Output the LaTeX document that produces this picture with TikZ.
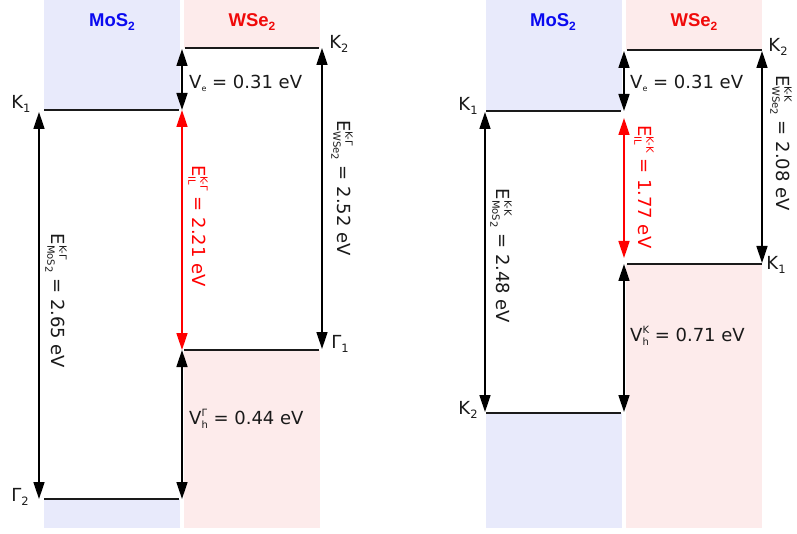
\documentclass[tikz,border=0pt]{standalone}
\usepackage{fontspec}
\setmainfont{DejaVu Sans}
\newfontfamily\hdfont{Liberation Sans}
\usetikzlibrary{arrows.meta}
\definecolor{mosfill}{HTML}{E8EAFB}
\definecolor{wsefill}{HTML}{FDEBEB}
\definecolor{hdblue}{HTML}{0A0AF0}
\definecolor{hdred}{HTML}{F00A0A}
\definecolor{txt}{HTML}{1A1A1A}
\newcommand{\lowx}[1]{{\fontsize{11.5}{11.5}\selectfont\raisebox{-4pt}{#1}}}
\newcommand{\tinylow}[1]{{\fontsize{8}{8}\selectfont\raisebox{-3pt}{#1}}}
\newcommand{\supsubx}[2]{{\fontsize{10}{10}\selectfont\setbox0=\hbox{\raisebox{8pt}{#1}}\setbox2=\hbox{\raisebox{-4pt}{#2}}\ifdim\wd0>\wd2 \rlap{\box2}\box0 \else\rlap{\box0}\box2\fi}}
\newcommand{\hdtext}[1]{{\hdfont\bfseries\fontsize{18.5}{18.5}\selectfont #1\raisebox{-4pt}{\fontsize{12}{12}\selectfont 2}}}
\tikzset{
  band/.style={line width=1.5pt, draw=txt},
  dbl/.style={line width=1.6pt, draw=black, {Triangle[length=17pt,width=11pt]}-{Triangle[length=17pt,width=11pt]}},
  dblred/.style={dbl, draw=red, {Triangle[length=17pt,width=11pt]}-{Triangle[length=17pt,width=11pt]}, red},
  lbl/.style={font=\fontsize{18}{18}\selectfont, text=txt, inner sep=0pt},
  rlbl/.style={lbl, rotate=-90},
  hd/.style={inner sep=0pt}
}
\begin{document}
\begin{tikzpicture}[x=1pt,y=-1pt]
\useasboundingbox (0,0) rectangle (797,534);
% ---------- left panel ----------
\fill[mosfill] (44,0) rectangle (180,110);
\fill[mosfill] (44,499) rectangle (180,528);
\fill[wsefill] (184,0) rectangle (320,48);
\fill[wsefill] (184,350) rectangle (320,528);
\node[hd, text=hdblue] (lmos) at (112,22) {\hdtext{MoS}};
\node[hd, text=hdred] (lwse) at (252,22) {\hdtext{WSe}};
\coordinate (lk1a) at (44,110);  \coordinate (lk1b) at (179,110);
\coordinate (lk2a) at (185,48);  \coordinate (lk2b) at (319,48);
\coordinate (lg1a) at (184,350); \coordinate (lg1b) at (319,350);
\coordinate (lg2a) at (44,499);  \coordinate (lg2b) at (179,499);
\draw[band] (lk1a) -- (lk1b);
\draw[band] (lk2a) -- (lk2b);
\draw[band] (lg1a) -- (lg1b);
\draw[band] (lg2a) -- (lg2b);
\coordinate (la1) at (39,112);  \coordinate (la2) at (39,499);
\coordinate (lv1) at (182,49);  \coordinate (lv2) at (182,110);
\coordinate (lv3) at (182,350); \coordinate (lv4) at (182,499);
\coordinate (lr1) at (322,48);  \coordinate (lr2) at (322,349);
\draw[dbl] (la1) -- (la2);
\draw[dbl] (lv1) -- (lv2);
\draw[dblred] (lv2) -- (lv3);
\draw[dbl] (lv3) -- (lv4);
\draw[dbl] (lr1) -- (lr2);
\node[lbl] (lK1) at (21,104) {K\lowx{1}};
\node[lbl] (lK2) at (339,44) {K\lowx{2}};
\node[lbl] (lG1) at (340,344) {Γ\lowx{1}};
\node[lbl] (lG2) at (20,497) {Γ\lowx{2}};
\node[lbl, anchor=west] (lVe) at (189,83) {V\tinylow{e} = 0.31 eV};
\node[lbl, anchor=west] (lVh) at (189,419) {V\supsubx{Γ}{h} = 0.44 eV};
\node[rlbl] (lEm) at (56,301) {E\supsubx{K-Γ}{MoS\raisebox{-2pt}{2}} = 2.65 eV};
\node[rlbl, text=red] (lEi) at (198,226) {E\supsubx{K-Γ}{IL} = 2.21 eV};
\node[rlbl] (lEw) at (342,188) {E\supsubx{K-Γ}{WSe\raisebox{-2pt}{2}} = 2.52 eV};
% ---------- right panel ----------
\fill[mosfill] (486,0) rectangle (622,111);
\fill[mosfill] (486,413) rectangle (622,528);
\fill[wsefill] (626,0) rectangle (762,50);
\fill[wsefill] (626,264) rectangle (762,528);
\node[hd, text=hdblue] (rmos) at (553,22) {\hdtext{MoS}};
\node[hd, text=hdred] (rwse) at (694,22) {\hdtext{WSe}};
\coordinate (rk1a) at (486,111); \coordinate (rk1b) at (621,111);
\coordinate (rk2a) at (627,50);  \coordinate (rk2b) at (762,50);
\coordinate (rk3a) at (627,264); \coordinate (rk3b) at (762,264);
\coordinate (rk4a) at (486,413); \coordinate (rk4b) at (621,413);
\draw[band] (rk1a) -- (rk1b);
\draw[band] (rk2a) -- (rk2b);
\draw[band] (rk3a) -- (rk3b);
\draw[band] (rk4a) -- (rk4b);
\coordinate (ra1) at (485,112); \coordinate (ra2) at (485,412);
\coordinate (rv1) at (624,51);  \coordinate (rv2) at (624,111);
\coordinate (rv3) at (624,118); \coordinate (rv4) at (624,258);
\coordinate (rv5) at (624,264); \coordinate (rv6) at (624,412);
\coordinate (rr1) at (762,51);  \coordinate (rr2) at (762,263);
\draw[dbl] (ra1) -- (ra2);
\draw[dbl] (rv1) -- (rv2);
\draw[dblred] (rv3) -- (rv4);
\draw[dbl] (rv5) -- (rv6);
\draw[dbl] (rr1) -- (rr2);
\node[lbl] (rK1) at (468,106) {K\lowx{1}};
\node[lbl] (rK2) at (778,47) {K\lowx{2}};
\node[lbl] (rK1b) at (776,265) {K\lowx{1}};
\node[lbl] (rK2b) at (468,410) {K\lowx{2}};
\node[lbl, anchor=west] (rVe) at (630,83) {V\tinylow{e} = 0.31 eV};
\node[lbl, anchor=west] (rVh) at (630,336) {V\supsubx{K}{h} = 0.71 eV};
\node[rlbl] (rEm) at (501,256) {E\supsubx{K-K}{MoS\raisebox{-2pt}{2}} = 2.48 eV};
\node[rlbl, text=red] (rEi) at (644,187) {E\supsubx{K-K}{IL} = 1.77 eV};
\node[rlbl] (rEw) at (781,143) {E\supsubx{K-K}{WSe\raisebox{-2pt}{2}} = 2.08 eV};
\end{tikzpicture}
\end{document}
